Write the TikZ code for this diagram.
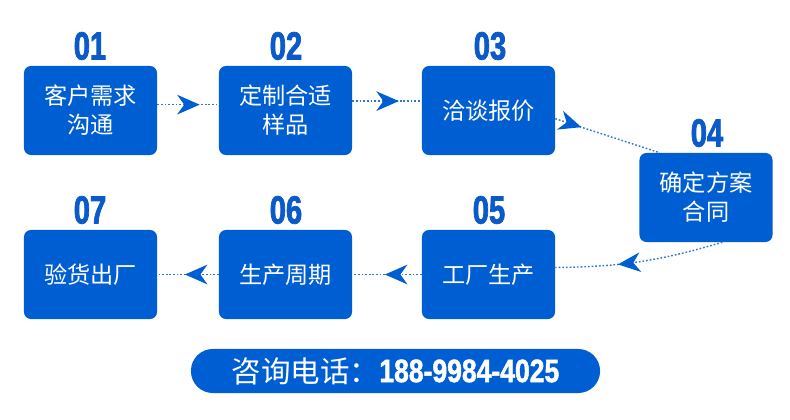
\documentclass[tikz,border=0pt]{standalone}
\usepackage{fontspec}
\newfontfamily\cjk{Noto Sans CJK SC}
\newfontfamily\numfont[FakeStretch=0.74, BoldFeatures={FakeBold=1.8}]{Liberation Sans}
\newfontfamily\telfont[FakeStretch=0.82, BoldFeatures={FakeBold=1.4}]{Liberation Sans}
\usetikzlibrary{arrows.meta,decorations.markings}
\definecolor{stepblue}{HTML}{005ED3}
\definecolor{numblue}{HTML}{0A5BC9}
\definecolor{lineblue}{HTML}{2F74D6}
\tikzset{
  stepbox/.style={fill=stepblue, rounded corners=5pt, minimum width=3.325cm,
    minimum height=2.225cm, inner sep=0pt, text=white, align=center,
    font=\cjk\fontsize{16.5}{20.5}\selectfont},
  stepnum/.style={inner sep=0pt, text=numblue,
    font=\numfont\bfseries\fontsize{28}{28}\selectfont},
  flow/.style={lineblue, line width=1pt, dash pattern=on 1.2pt off 1.4pt,
    postaction={decorate}, decoration={markings, mark=at position #1 with
    {\arrow[stepblue, solid]{Stealth[length=16pt,width=14pt,inset=5pt]}}}}
}
\begin{document}
\begin{tikzpicture}[x=0.025cm, y=-0.025cm]
	\useasboundingbox (0,0) rectangle (790,420);
	
	% Top row of steps
	\node[stepbox] (ask) at (90.5,110.5) {客户需求\\沟通};
	\node[stepbox] (sample) at (285.5,110.5) {定制合适\\样品};
	\node[stepbox] (quote) at (488.5,110.5) {洽谈报价};
	
	% Step on the right
	\node[stepbox] (contract) at (706,197.5) {确定方案\\合同};
	
	% Bottom row of steps
	\node[stepbox] (make) at (488.5,274.5) {工厂生产};
	\node[stepbox] (cycle) at (285.5,274.5) {生产周期};
	\node[stepbox] (check) at (90.5,274.5) {验货出厂};
	
	% Step numbers
	\node[stepnum] (n1) at (90,46) {01};
	\node[stepnum] (n2) at (286,46) {02};
	\node[stepnum] (n3) at (490,46) {03};
	\node[stepnum] (n4) at (707,133) {04};
	\node[stepnum] (n5) at (489,210) {05};
	\node[stepnum] (n6) at (286,210) {06};
	\node[stepnum] (n7) at (90,210) {07};
	
	% Dotted connectors
	\draw[flow=0.69] (ask.5) -- (sample.175);
	\draw[flow=0.67] (sample.8) -- (quote.172);
	\draw[flow=0.25] (quote.-7) -- (contract.136);
	\draw[flow=0.63] (contract.-70) to[bend left=8] (make.6);
	\draw[flow=0.53] (make.west) -- (cycle.east);
	\draw[flow=0.55] (cycle.west) -- (check.east);
	
	% Phone bar
	\node[fill=stepblue, rounded corners=15.5pt, minimum width=10.225cm,
	  minimum height=1.1cm, inner sep=0pt, text=white] (tel) at (395.5,371)
	  {{\cjk\fontsize{21}{21}\selectfont 咨询电话：}{\telfont\bfseries\fontsize{23}{23}\selectfont 188-9984-4025}};
\end{tikzpicture}
\end{document}
